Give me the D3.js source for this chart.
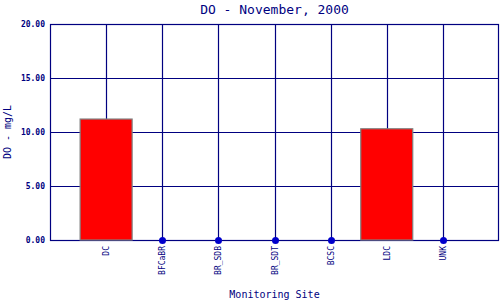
<!DOCTYPE html>
<html>
<head>
<meta charset="utf-8">
<script src="https://cdn.jsdelivr.net/npm/d3@7"></script>
<style>
  body { margin: 0; background: #fff; }
  text { font-family: "DejaVu Sans Mono", monospace; fill: #000080; }
</style>
</head>
<body>
<script>
var sites = ['DC', 'BFCaBR', 'BR_SDB', 'BR_SDT', 'BCSC', 'LDC', 'UNK'],
    values = [11.2, 0, 0, 0, 0, 10.3, 0],
    yticks = [0, 5, 10, 15, 20];

var svgwidth = 500, svgheight = 300,
    margin = { top: 24, right: 1, bottom: 60, left: 50 },
    width = svgwidth - margin.left - margin.right,
    height = svgheight - margin.top - margin.bottom;

var svg = d3.select('body').append('svg')
    .attr('width', svgwidth)
    .attr('height', svgheight);

var g = svg.append('g')
    .attr('transform', 'translate(' + margin.left + ',' + margin.top + ')');

var x = d3.scalePoint().domain(sites).range([0, width]).padding(1);
var y = d3.scaleLinear().domain([0, 20]).range([height, 0]);

// grid
g.selectAll('.hgrid').data(yticks).enter().append('line')
    .attr('x1', 0).attr('x2', width)
    .attr('y1', function (d) { return Math.round(y(d)) + 0.5; })
    .attr('y2', function (d) { return Math.round(y(d)) + 0.5; })
    .attr('stroke', '#000080').attr('stroke-width', 1.2);
g.selectAll('.vgrid').data(sites).enter().append('line')
    .attr('x1', function (d) { return Math.round(x(d)) + 0.5; })
    .attr('x2', function (d) { return Math.round(x(d)) + 0.5; })
    .attr('y1', 0).attr('y2', height)
    .attr('stroke', '#000080').attr('stroke-width', 1.2);
g.append('rect')
    .attr('x', 0.5).attr('y', 0.5)
    .attr('width', width - 1).attr('height', height)
    .attr('fill', 'none').attr('stroke', '#000080').attr('stroke-width', 1.2);

// bars and zero markers
var bw = 52;
var rows = values.map(function (v, i) { return { site: sites[i], v: v }; });
g.selectAll('.bar').data(rows.filter(function (d) { return d.v > 0; }))
    .enter().append('rect')
    .attr('x', function (d) { return x(d.site) - bw / 2; })
    .attr('y', function (d) { return y(d.v); })
    .attr('width', bw)
    .attr('height', function (d) { return y(0) - y(d.v); })
    .attr('fill', '#ff0000')
    .attr('stroke', '#808080').attr('stroke-width', 1.2);

g.selectAll('.dot').data(rows.filter(function (d) { return d.v === 0; }))
    .enter().append('circle')
    .attr('cx', function (d) { return Math.round(x(d.site)) + 0.5; })
    .attr('cy', function (d) { return y(d.v) + 0.5; })
    .attr('r', 3.5)
    .attr('fill', '#0000cc');

// y tick labels
g.selectAll('.ylab').data(yticks).enter().append('text')
    .attr('x', -5)
    .attr('y', function (d) { return y(d); })
    .attr('dy', '0.35em')
    .attr('text-anchor', 'end')
    .attr('font-size', '8px')
    .attr('font-weight', 'bold')
    .text(function (d) { return d3.format('.2f')(d); });

// x tick labels
g.selectAll('.xlab').data(sites).enter().append('text')
    .attr('transform', function (d) { return 'translate(' + (x(d) + 3) + ',' + (height + 6) + ') rotate(-90)'; })
    .attr('text-anchor', 'end')
    .attr('font-size', '8px')
    .text(function (d) { return d; });

// titles
svg.append('text')
    .attr('x', margin.left + width / 2)
    .attr('y', 14)
    .attr('text-anchor', 'middle')
    .attr('font-size', '13px')
    .text('DO - November, 2000');

svg.append('text')
    .attr('x', margin.left + width / 2)
    .attr('y', 298)
    .attr('text-anchor', 'middle')
    .attr('font-size', '10px')
    .text('Monitoring Site');

svg.append('text')
    .attr('transform', 'translate(11,' + (margin.top + height / 2) + ') rotate(-90)')
    .attr('text-anchor', 'middle')
    .attr('font-size', '10px')
    .text('DO - mg/L');
</script>
</body>
</html>
